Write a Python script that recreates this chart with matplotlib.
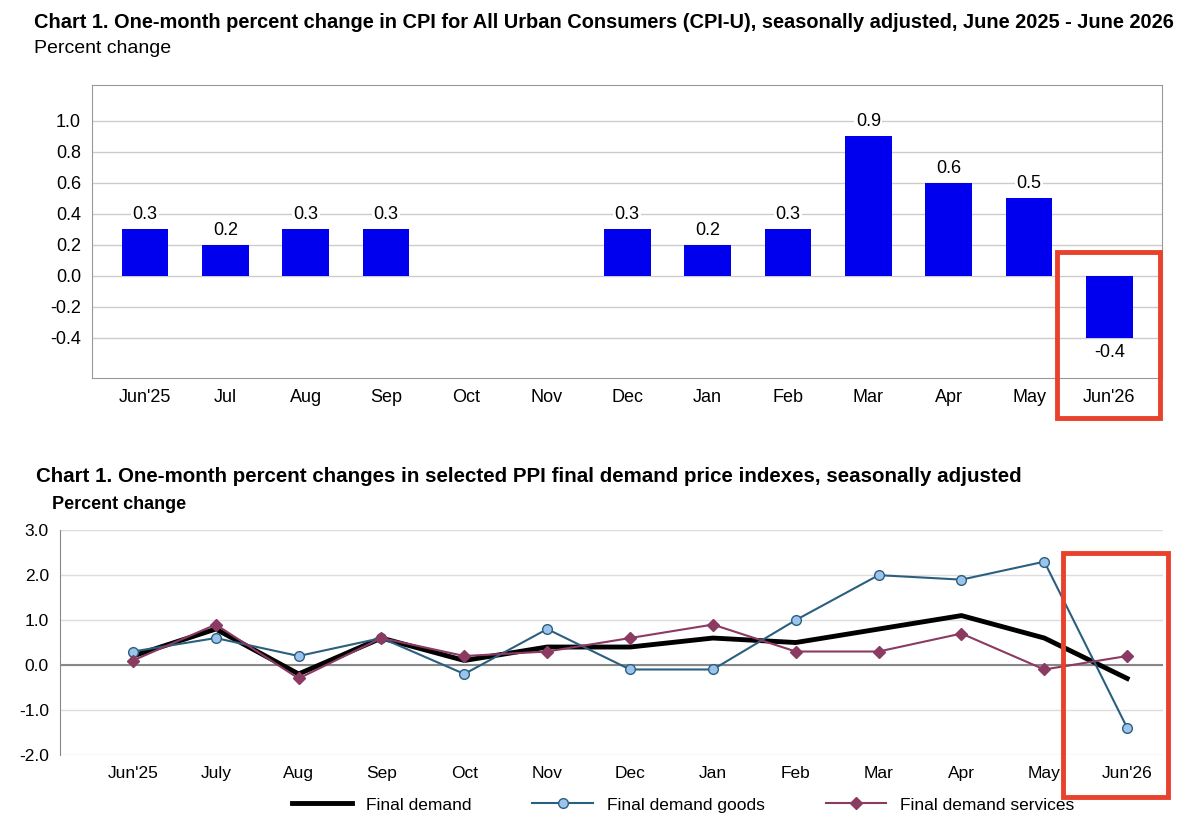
import matplotlib
matplotlib.use("Agg")
import matplotlib.pyplot as plt
from matplotlib.patches import Rectangle
import numpy as np

months_top = ["Jun'25","Jul","Aug","Sep","Oct","Nov","Dec","Jan","Feb","Mar","Apr","May","Jun'26"]
cpi = [0.3,0.2,0.3,0.3,None,None,0.3,0.2,0.3,0.9,0.6,0.5,-0.4]
months_bot = ["Jun'25","July","Aug","Sep","Oct","Nov","Dec","Jan","Feb","Mar","Apr","May","Jun'26"]
final_demand = [0.2,0.8,-0.2,0.6,0.1,0.4,0.4,0.6,0.5,0.8,1.1,0.6,-0.3]
goods = [0.3,0.6,0.2,0.6,-0.2,0.8,-0.1,-0.1,1.0,2.0,1.9,2.3,-1.4]
services = [0.1,0.9,-0.3,0.6,0.2,0.3,0.6,0.9,0.3,0.3,0.7,-0.1,0.2]

plt.rcParams['font.family'] = ['Liberation Sans', 'DejaVu Sans']
fig = plt.figure(figsize=(12, 8.35), dpi=100)

# Top chart
ax1 = fig.add_axes([0.0767, 0.547, 0.892, 0.351])
x = np.arange(len(months_top))
for i, v in enumerate(cpi):
    if v is None:
        continue
    ax1.bar(i, v, width=0.58, color='#0000ee', zorder=3)
    ax1.text(i, v + 0.04 if v >= 0 else v - 0.04, f"{v:.1f}", ha='center',
             va='bottom' if v >= 0 else 'top', fontsize=13, zorder=4,
             bbox=dict(facecolor='white', edgecolor='none', pad=1))
ax1.set_xlim(-0.66, 12.66)
ax1.set_ylim(-0.66, 1.23)
ax1.set_yticks([-0.4,-0.2,0.0,0.2,0.4,0.6,0.8,1.0])
ax1.set_yticklabels([f"{t:.1f}" for t in [-0.4,-0.2,0.0,0.2,0.4,0.6,0.8,1.0]])
ax1.set_xticks(x)
ax1.set_xticklabels(months_top)
ax1.tick_params(labelsize=13, length=0, pad=8)
ax1.grid(axis='y', color='#cccccc', lw=1, zorder=0)
for s in ax1.spines.values():
    s.set_color('#999999')
fig.text(0.028, 0.962, "Chart 1. One-month percent change in CPI for All Urban Consumers (CPI-U), seasonally adjusted, June 2025 - June 2026",
         fontsize=14.4, fontweight='bold', va='bottom')
fig.text(0.028, 0.932, "Percent change", fontsize=14, va='bottom')

# Bottom chart
ax2 = fig.add_axes([0.05, 0.096, 0.919, 0.269])
xb = np.arange(len(months_bot))
ax2.plot(xb, final_demand, color='black', lw=3.5, zorder=3, label='Final demand')
ax2.plot(xb, goods, color='#2b5f80', lw=1.5, marker='o', ms=7, mfc='#9cc3ec', mec='#2b5f80', zorder=4, label='Final demand goods')
ax2.plot(xb, services, color='#8b3a62', lw=1.5, marker='D', ms=6, mfc='#8b3a62', mec='#8b3a62', zorder=5, label='Final demand services')
ax2.set_xlim(-0.88, 12.43)
ax2.set_ylim(-2.0, 3.0)
ax2.set_yticks([-2,-1,0,1,2,3])
ax2.set_yticklabels([f"{t:.1f}" for t in [-2,-1,0,1,2,3]])
ax2.set_xticks(xb)
ax2.set_xticklabels(months_bot)
ax2.tick_params(labelsize=12.5, length=0, pad=8)
ax2.grid(axis='y', color='#dddddd', lw=1, zorder=0)
ax2.axhline(0, color='#888888', lw=1.5, zorder=2)
for k in ['top','right','bottom']:
    ax2.spines[k].set_visible(False)
ax2.spines['left'].set_color('#888888')
ax2.legend(loc='upper center', bbox_to_anchor=(0.565, -0.12), ncol=3, frameon=False,
           fontsize=12.5, handlelength=3.5, columnspacing=3.5)
fig.text(0.03, 0.418, "Chart 1. One-month percent changes in selected PPI final demand price indexes, seasonally adjusted",
         fontsize=14.8, fontweight='bold', va='bottom')
fig.text(0.043, 0.386, "Percent change", fontsize=13, fontweight='bold', va='bottom')

# Red highlight boxes
for (x0, y0, x1, y1) in [(1057, 252, 1160, 418), (1063, 553, 1168, 797)]:
    fig.patches.append(Rectangle((x0/1200, 1 - y1/835), (x1-x0)/1200, (y1-y0)/835,
                                 transform=fig.transFigure, fill=False, edgecolor='#e8412c', lw=3.5, zorder=10))

fig.savefig("out.png", dpi=100, facecolor='white')
